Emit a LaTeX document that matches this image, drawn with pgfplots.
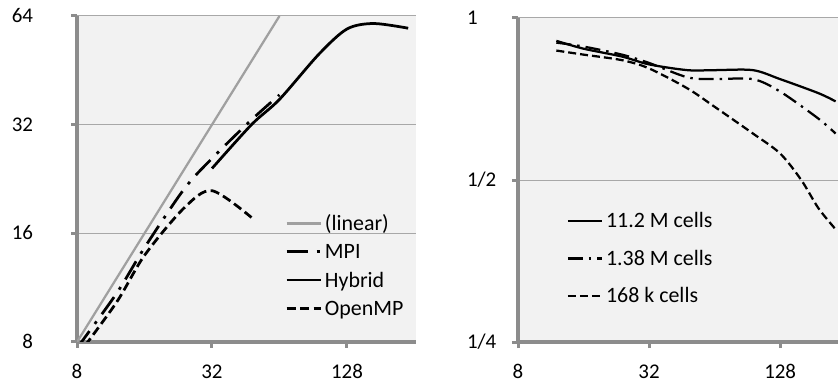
\documentclass[border=0pt]{standalone}
\usepackage{pgfplots}
\pgfplotsset{compat=1.18}
\usepackage{fontspec}
\setmainfont{Carlito}
\definecolor{bg}{HTML}{F2F2F2}
\definecolor{axgray}{HTML}{8C8C8C}
\definecolor{gridgray}{HTML}{A8A8A8}
\definecolor{lingray}{HTML}{A0A0A0}
\newcommand{\yl}[1]{\makebox[0pt][r]{\raisebox{-6.6bp}[0pt][0pt]{#1}}}
\newcommand{\yr}[1]{\makebox[0pt][l]{\raisebox{-6.6bp}[0pt][0pt]{#1}}}
\newcommand{\xl}[1]{\makebox[0pt][c]{\raisebox{-13.3bp}[0pt][0pt]{#1}}}

\begin{document}
\begin{tikzpicture}
\path[use as bounding box] (0bp,0bp) rectangle (838bp,382bp);
\begin{axis}[
  at={(77bp,40bp)}, anchor=south west,
  scale only axis, width=339bp, height=326bp,
  xmode=log, ymode=log, log basis x=2, log basis y=2,
  xmin=8, xmax=260, ymin=8, ymax=64,
  xtick={8,32,128}, xticklabels={\xl{8},\xl{32},\xl{128}},
  ytick={8,16,32,64}, yticklabels={\yl{8},\yl{16},\yl{32},\yl{64}},
  minor xtick={}, minor ytick={},
  axis lines*=left,
  axis line style={axgray, line width=3.3bp, -},
  tick align=outside, major tick length=6bp,
  every tick/.style={axgray, line width=3bp},
  ymajorgrids, major grid style={gridgray, line width=1bp},
  axis background/.style={fill=bg},
  xticklabel style={font=\fontsize{21}{25}\selectfont, anchor=center, inner sep=0pt, yshift=-17bp},
  yticklabel style={font=\fontsize{21}{25}\selectfont, anchor=center, inner sep=0pt, xshift=-38bp},
  legend cell align=left,
  legend image code/.code={\path[draw=none,fill=none] (0bp,-7bp) rectangle (34bp,7bp); \draw[#1, line cap=butt] (0bp,0bp) -- (34bp,0bp);},
  legend style={draw=none, fill=none, at={(0.6136,0.3856)}, anchor=north west, inner sep=0pt,
    row sep=14.3bp, column sep=3bp, font=\fontsize{22}{26}\selectfont,
    nodes={inner sep=0pt, text height=14bp, text depth=0bp, font=\fontsize{22}{26}\selectfont}},
]
\addplot[lingray, line width=2.25bp] coordinates {(8,8) (64,64)};
\addlegendentry{(linear)}
\addplot[black, line width=2.75bp, dash pattern=on 21bp off 9bp on 3bp off 9bp, smooth] coordinates {
(8,7.7) (12,10.9) (16,14.6) (24,21.2) (32,25.8) (48,33.0) (64,38.7)};
\addlegendentry{MPI}
\addplot[black, line width=2.75bp, smooth] coordinates {
(32,24.2) (48,32.0) (64,37.6) (96,50.2) (128,58.9) (168,61.0) (240,59.2)};
\addlegendentry{Hybrid}
\addplot[black, line width=2.75bp, dash pattern=on 9bp off 4.5bp, smooth] coordinates {
(8,7.3) (12,10.3) (16,13.9) (24,18.8) (32,21.0) (48,17.7)};
\addlegendentry{OpenMP}
\end{axis}

\begin{axis}[
  at={(518bp,40bp)}, anchor=south west,
  scale only axis, width=320bp, height=324bp,
  xmode=log, ymode=log, log basis x=2, log basis y=2,
  xmin=8, xmax=236, ymin=0.25, ymax=1,
  xtick={8,32,128}, xticklabels={\xl{8},\xl{32},\xl{128}},
  ytick={0.25,0.5,1}, yticklabels={\yr{1/4},\yr{1/2},\yr{1}},
  minor xtick={}, minor ytick={},
  axis lines*=left,
  axis line style={axgray, line width=3.3bp, -},
  tick align=outside, major tick length=6bp,
  every tick/.style={axgray, line width=3bp},
  ymajorgrids, major grid style={gridgray, line width=1bp},
  axis background/.style={fill=bg},
  xticklabel style={font=\fontsize{21}{25}\selectfont, anchor=center, inner sep=0pt, yshift=-17bp},
  yticklabel style={font=\fontsize{21}{25}\selectfont, anchor=center, inner sep=0pt, xshift=-45bp},
  legend cell align=left,
  legend image code/.code={\path[draw=none,fill=none] (0bp,-7bp) rectangle (34bp,7bp); \draw[#1, line cap=butt] (0bp,0bp) -- (34bp,0bp);},
  legend style={draw=none, fill=none, at={(0.152,0.396)}, anchor=north west, inner sep=0pt,
    row sep=23.5bp, column sep=3bp, font=\fontsize{22}{26}\selectfont,
    nodes={inner sep=0pt, text height=14bp, text depth=0bp, font=\fontsize{22}{26}\selectfont}},
]
\addplot[black, line width=2.25bp, smooth] coordinates {
(12,0.907) (16,0.877) (24,0.848) (32,0.82) (48,0.80) (64,0.80) (96,0.80) (128,0.77) (192,0.725) (230,0.70)};
\addlegendentry{11.2 M cells}
\addplot[black, line width=2.25bp, dash pattern=on 15bp off 6bp on 2.5bp off 6bp, smooth] coordinates {
(12,0.90) (16,0.885) (24,0.855) (32,0.825) (48,0.776) (64,0.77) (96,0.77) (128,0.73) (192,0.65) (230,0.61)};
\addlegendentry{1.38 M cells}
\addplot[black, line width=2.25bp, dash pattern=on 8bp off 4bp, smooth] coordinates {
(12,0.87) (16,0.855) (24,0.835) (32,0.806) (48,0.74) (64,0.684) (96,0.61) (128,0.56) (160,0.50) (192,0.443) (230,0.405)};
\addlegendentry{168 k cells}
\end{axis}
\end{tikzpicture}
\end{document}
